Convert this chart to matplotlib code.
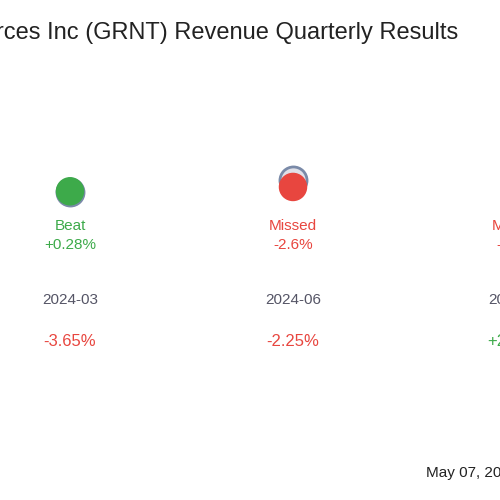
import matplotlib
matplotlib.use("Agg")
import matplotlib.pyplot as plt
from matplotlib.transforms import blended_transform_factory

plt.rcParams['font.family'] = ['Liberation Sans', 'DejaVu Sans']

periods = ["2024-03", "2024-06", "2024-09"]
estimates = [0.900, 0.943, 0.930]
actuals = [0.9025, 0.918, 0.905]
results = ["Beat", "Missed", "Missed"]
surprise = ["+0.28%", "-2.6%", "-2.7%"]
yoy = ["-3.65%", "-2.25%", "+2.10%"]

GREEN = "#3daa4a"
RED = "#e8463f"
GREY = "#555566"

fig = plt.figure(figsize=(5, 5), dpi=100)
ax = fig.add_axes([0, 0, 1, 1])
ax.set_xlim(-70 / 223, 430 / 223)
ax.set_ylim(-0.2, 1.5857)
ax.axis("off")

x = list(range(len(periods)))
ax.scatter(x, estimates, s=380, facecolor="#e0e0e8", edgecolor="#7a8aa8", linewidth=2, zorder=2)
colors = [GREEN if r == "Beat" else RED for r in results]
ax.scatter(x, actuals, s=380, color=colors, zorder=3)

tr = blended_transform_factory(ax.transData, ax.transAxes)
for i in x:
    c = colors[i]
    ax.text(i, 1 - 226 / 500, results[i], color=c, ha="center", va="center", fontsize=11, transform=tr)
    ax.text(i, 1 - 245 / 500, surprise[i], color=c, ha="center", va="center", fontsize=11, transform=tr)
    ax.text(i, 1 - 300 / 500, periods[i], color=GREY, ha="center", va="center", fontsize=11, transform=tr)
    yc = GREEN if yoy[i].startswith("+") else RED
    ax.text(i, 1 - 342 / 500, yoy[i], color=yc, ha="center", va="center", fontsize=12, transform=tr)

fig.text(-0.45, 1 - 33 / 500, "Granite Ridge Resources Inc (GRNT) Revenue Quarterly Results",
         fontsize=17, color="#222222", ha="left", va="center")
fig.text(0.852, 1 - 473 / 500, "May 07, 2025", fontsize=11, color="#222222", ha="left", va="center")
fig.savefig("out.png", dpi=100)
